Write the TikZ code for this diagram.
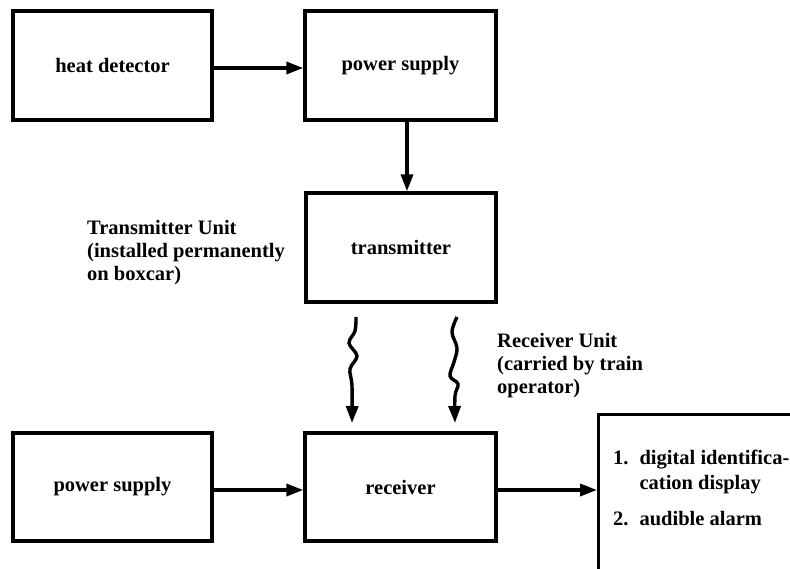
\documentclass[tikz,border=0pt]{standalone}
\usepackage{fontspec}
\setmainfont{Liberation Serif}
\usetikzlibrary{arrows.meta,calc}
\begin{document}
\begin{tikzpicture}[x=1pt,y=-1pt,
  blk/.style={draw, line width=3.4pt, minimum height=109pt, inner sep=0pt,
    font=\bfseries\fontsize{20.5}{24}\selectfont},
  conn/.style={line width=3.4pt, -{Triangle[length=17pt,width=12pt]}},
  lbl/.style={font=\bfseries\fontsize{20.5}{23}\selectfont, align=left, anchor=north west, inner sep=0pt}]
\useasboundingbox (0,0) rectangle (790,569);
\begin{scope}
\clip (0,0) rectangle (790,569);
% blocks
\node[blk, minimum width=199pt] (hd) at (112.5,65.5) {heat detector};
\node[blk, minimum width=191pt] (ps1) at (400.5,65.5) {power supply};
\node[blk, minimum width=190pt] (tx) at (401,247.5) {transmitter};
\node[blk, minimum width=199pt, minimum height=108pt] (ps2) at (112.5,487) {power supply};
\node[blk, minimum width=191pt, minimum height=108pt] (rx) at (400.5,487) {receiver};
\node[blk, anchor=north west, minimum width=240pt, minimum height=200pt] (out) at (597,413) {};
% labels
\node[lbl] (txl) at (87,220) {Transmitter Unit\\(installed permanently\\on boxcar)};
\node[lbl] (rxl) at (497,333) {Receiver Unit\\(carried by train\\operator)};
\node[lbl, font=\bfseries\fontsize{20.5}{25}\selectfont] (outl) at (613,447)
  {\begin{tabular}{@{}l@{\hspace{11pt}}l@{}}1. & digital identifica-\\ & cation display\\[11pt] 2. & audible alarm\end{tabular}};
% connectors
\draw[conn] (hd.east |- 0,68) -- (ps1.west |- 0,68);
\draw[conn] ($(ps1.south)+(6.5,0)$) -- ($(tx.north)+(6,0)$);
\draw[conn] (ps2.east |- 0,490) -- (rx.west |- 0,490);
\draw[conn] (rx.east |- 0,490) -- (out.west |- 0,490);
% wireless links
\coordinate (w1s) at (356,317);
\coordinate (w1e) at (352,423);
\coordinate (w2s) at (457,317);
\coordinate (w2e) at (455,423);
\draw[conn] plot[smooth, tension=0.6] coordinates {(w1s) (355,331) (349,343) (357,356) (350,369) (352,386) (w1e)};
\draw[conn] plot[smooth, tension=0.6] coordinates {(w2s) (452,332) (457,348) (454,362) (450,376) (458,384) (455,396) (w2e)};
\end{scope}
\end{tikzpicture}
\end{document}
